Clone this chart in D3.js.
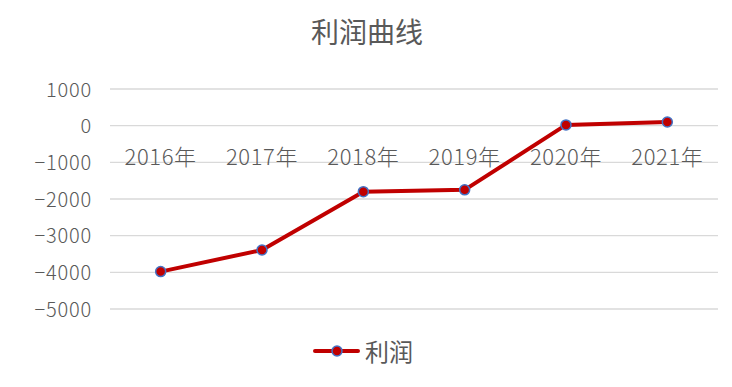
<!DOCTYPE html>
<html>
<head>
<meta charset="utf-8">
<script src="https://cdn.jsdelivr.net/npm/d3@7"></script>
<style>
  body { margin: 0; background: #fff; }
  text { font-family: "Noto Sans CJK SC", "Noto Sans", sans-serif; }
</style>
</head>
<body>
<div id="wrapper"></div>
<script>
const years = ['2016年', '2017年', '2018年', '2019年', '2020年', '2021年']
const profit = [-3980, -3390, -1800, -1750, 20, 100]
const yTicks = [1000, 0, -1000, -2000, -3000, -4000, -5000]
const seriesName = '利润'
const title = '利润曲线'

const width = 732
const height = 387

const svg = d3.select('#wrapper')
    .append('svg')
        .attr('width', width)
        .attr('height', height)

svg.append('rect')
    .attr('width', width)
    .attr('height', height)
    .attr('fill', '#fff')

const xScale = d3.scaleBand()
    .domain(years)
    .range([110, 718])

const yScale = d3.scaleLinear()
    .domain([-5000, 1000])
    .range([309, 89])

// gridlines
svg.append('g')
    .selectAll('line')
    .data(yTicks)
    .join('line')
        .attr('x1', 110)
        .attr('x2', 718)
        .attr('y1', d => yScale(d))
        .attr('y2', d => yScale(d))
        .attr('stroke', '#d9d9d9')
        .attr('stroke-width', 1.3)

// y axis labels
const yAxis = d3.axisLeft(yScale)
    .tickValues(yTicks)
    .tickSize(0)
    .tickPadding(0)
    .tickFormat(d => d < 0 ? '\u2212' + Math.abs(d) : d)

svg.append('g')
    .attr('transform', 'translate(92,0)')
    .call(yAxis)
    .call(g => g.select('.domain').remove())
    .selectAll('text')
        .attr('fill', '#595959')
        .attr('font-size', 20)
        .attr('font-weight', 300)
        .attr('letter-spacing', 0.8)
        .attr('dy', '0.36em')

// category labels sit on the zero line
const xAxis = d3.axisBottom(xScale)
    .tickSize(0)
    .tickPadding(0)

svg.append('g')
    .attr('transform', 'translate(0,165)')
    .call(xAxis)
    .call(g => g.select('.domain').remove())
    .selectAll('text')
        .attr('fill', '#595959')
        .attr('font-size', 22)
        .attr('font-weight', 300)
        .attr('letter-spacing', 0.6)
        .attr('y', 0)
        .attr('dy', 0)

const cx = d => xScale(d) + xScale.bandwidth() / 2

const line = d3.line()
    .x((d, i) => cx(years[i]))
    .y(d => yScale(d))

svg.append('path')
    .datum(profit)
    .attr('d', line)
    .attr('fill', 'none')
    .attr('stroke', '#C00000')
    .attr('stroke-width', 4)
    .attr('stroke-linejoin', 'round')

svg.append('g')
    .selectAll('circle')
    .data(profit)
    .join('circle')
        .attr('cx', (d, i) => cx(years[i]))
        .attr('cy', d => yScale(d))
        .attr('r', 5)
        .attr('fill', '#C00000')
        .attr('stroke', '#4472C4')
        .attr('stroke-width', 1.5)

// title
svg.append('text')
    .attr('x', width / 2 + 1)
    .attr('y', 43)
    .attr('text-anchor', 'middle')
    .attr('font-size', 28)
    .attr('fill', '#595959')
    .text(title)

// legend
const legend = svg.append('g')
    .attr('transform', 'translate(0,351)')

legend.append('line')
    .attr('x1', 315)
    .attr('x2', 358)
    .attr('stroke', '#C00000')
    .attr('stroke-width', 4)
    .attr('stroke-linecap', 'round')

legend.append('circle')
    .attr('cx', 337)
    .attr('r', 5)
    .attr('fill', '#C00000')
    .attr('stroke', '#4472C4')
    .attr('stroke-width', 1.5)

legend.append('text')
    .attr('x', 365)
    .attr('y', 10)
    .attr('font-size', 24)
    .attr('fill', '#595959')
    .text(seriesName)
</script>
</body>
</html>
